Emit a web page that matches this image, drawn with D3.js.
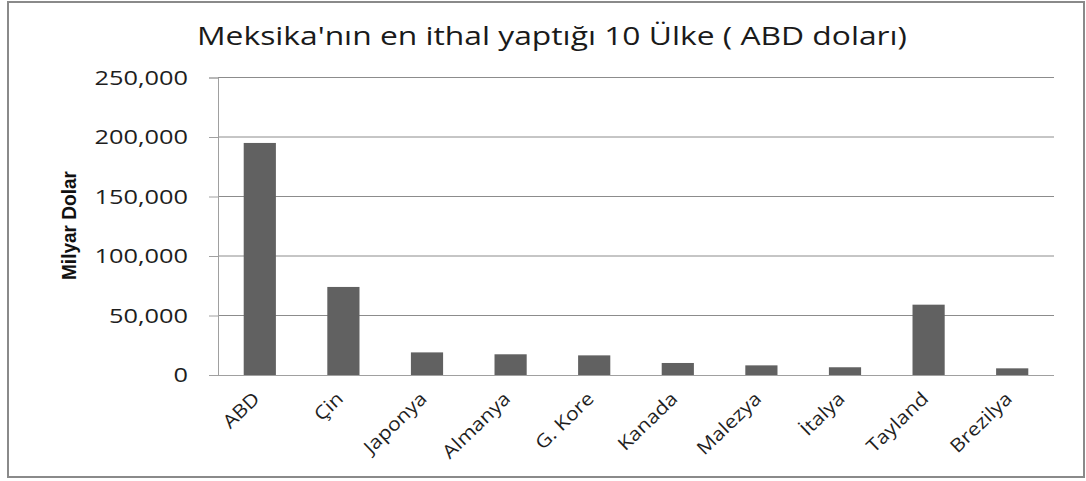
<!DOCTYPE html>
<html>
<head>
<meta charset="utf-8">
<script src="https://cdn.jsdelivr.net/npm/d3@7"></script>
<style>
  html, body { margin: 0; padding: 0; background: #fff; }
  svg { display: block; }
</style>
</head>
<body>
<svg id="chart" width="1086" height="481"></svg>
<script>
const categories = ["ABD", "Çin", "Japonya", "Almanya", "G. Kore", "Kanada", "Malezya", "İtalya", "Tayland", "Brezilya"];
const values = [195000, 74000, 19000, 17400, 16500, 10100, 8100, 6500, 59100, 5600];
const yTicks = [0, 50000, 100000, 150000, 200000, 250000];
const titleText = "Meksika'nın en ithal yaptığı 10 Ülke ( ABD doları)";
const yLabelText = "Milyar Dolar";

const svg = d3.select("#chart");
const plot = { left: 218, right: 1054, top: 77.5, bottom: 375 };
const SX = 1.3; // horizontal stretch of the reference's text
const FONT = "'Open Sans', 'DejaVu Sans', sans-serif";

function stretch(sel, factor) {
  sel.each(function() {
    const w = this.getComputedTextLength();
    d3.select(this).attr("textLength", w * factor).attr("lengthAdjust", "spacingAndGlyphs");
  });
}

// outer frame
svg.append("rect").attr("x", 8).attr("y", 2).attr("width", 1076).attr("height", 475)
  .attr("fill", "#fff").attr("stroke", "#8a8a8a").attr("stroke-width", 2);

const x = d3.scaleBand().domain(categories).range([plot.left, plot.right]).paddingInner(0.615).paddingOuter(0.3075);
const y = d3.scaleLinear().domain([0, 250000]).range([plot.bottom, plot.top]);

// gridlines
svg.append("g").selectAll("line").data(yTicks.filter(d => d > 0)).join("line")
  .attr("x1", plot.left).attr("x2", plot.right)
  .attr("y1", d => y(d)).attr("y2", d => y(d))
  .attr("stroke", "#8c8c8c").attr("stroke-width", 1);

// bars
svg.append("g").selectAll("rect").data(values).join("rect")
  .attr("x", (d, i) => x(categories[i]))
  .attr("y", d => y(d))
  .attr("width", x.bandwidth())
  .attr("height", d => y(0) - y(d))
  .attr("fill", "#616161");

// y axis
const yAxis = svg.append("g").attr("transform", `translate(${plot.left},0)`)
  .call(d3.axisLeft(y).tickValues(yTicks).tickSize(9).tickPadding(21).tickFormat(d3.format(",")));
yAxis.select(".domain").attr("stroke", "#a0a0a0");
yAxis.selectAll(".tick line").attr("stroke", "#a0a0a0");
yAxis.selectAll("text").attr("font-family", FONT).attr("font-size", 19.5).attr("fill", "#1e1e1e")
  .attr("dy", "0.35em").call(stretch, SX);

// x axis
const xAxis = svg.append("g").attr("transform", `translate(0,${plot.bottom})`)
  .call(d3.axisBottom(x).tickSize(0).tickPadding(0));
xAxis.select(".domain").attr("d", `M${plot.left - 9},0.5H${plot.right}`).attr("stroke", "#a0a0a0");
xAxis.selectAll(".tick text")
  .attr("font-family", FONT).attr("font-size", 18.5).attr("fill", "#1e1e1e")
  .attr("text-anchor", "end").attr("dy", 0).attr("y", 0)
  .attr("transform", "translate(1,25) rotate(-44)")
  .call(stretch, 1.15);

// title
svg.append("text").attr("x", (197 + 907) / 2).attr("y", 45)
  .attr("text-anchor", "middle").attr("font-family", FONT).attr("font-size", 25).attr("fill", "#1a1a1a")
  .text(titleText)
  .each(function() { d3.select(this).attr("textLength", 710).attr("lengthAdjust", "spacingAndGlyphs"); });

// y label
svg.append("text").attr("transform", `translate(76,225.5) rotate(-90)`)
  .attr("text-anchor", "middle")
  .attr("font-family", "'Liberation Sans Narrow', 'Arial Narrow', 'Liberation Sans', sans-serif")
  .attr("font-weight", "bold").attr("font-size", 20.5).attr("fill", "#111")
  .attr("textLength", 109).attr("lengthAdjust", "spacingAndGlyphs")
  .text(yLabelText);
</script>
</body>
</html>
